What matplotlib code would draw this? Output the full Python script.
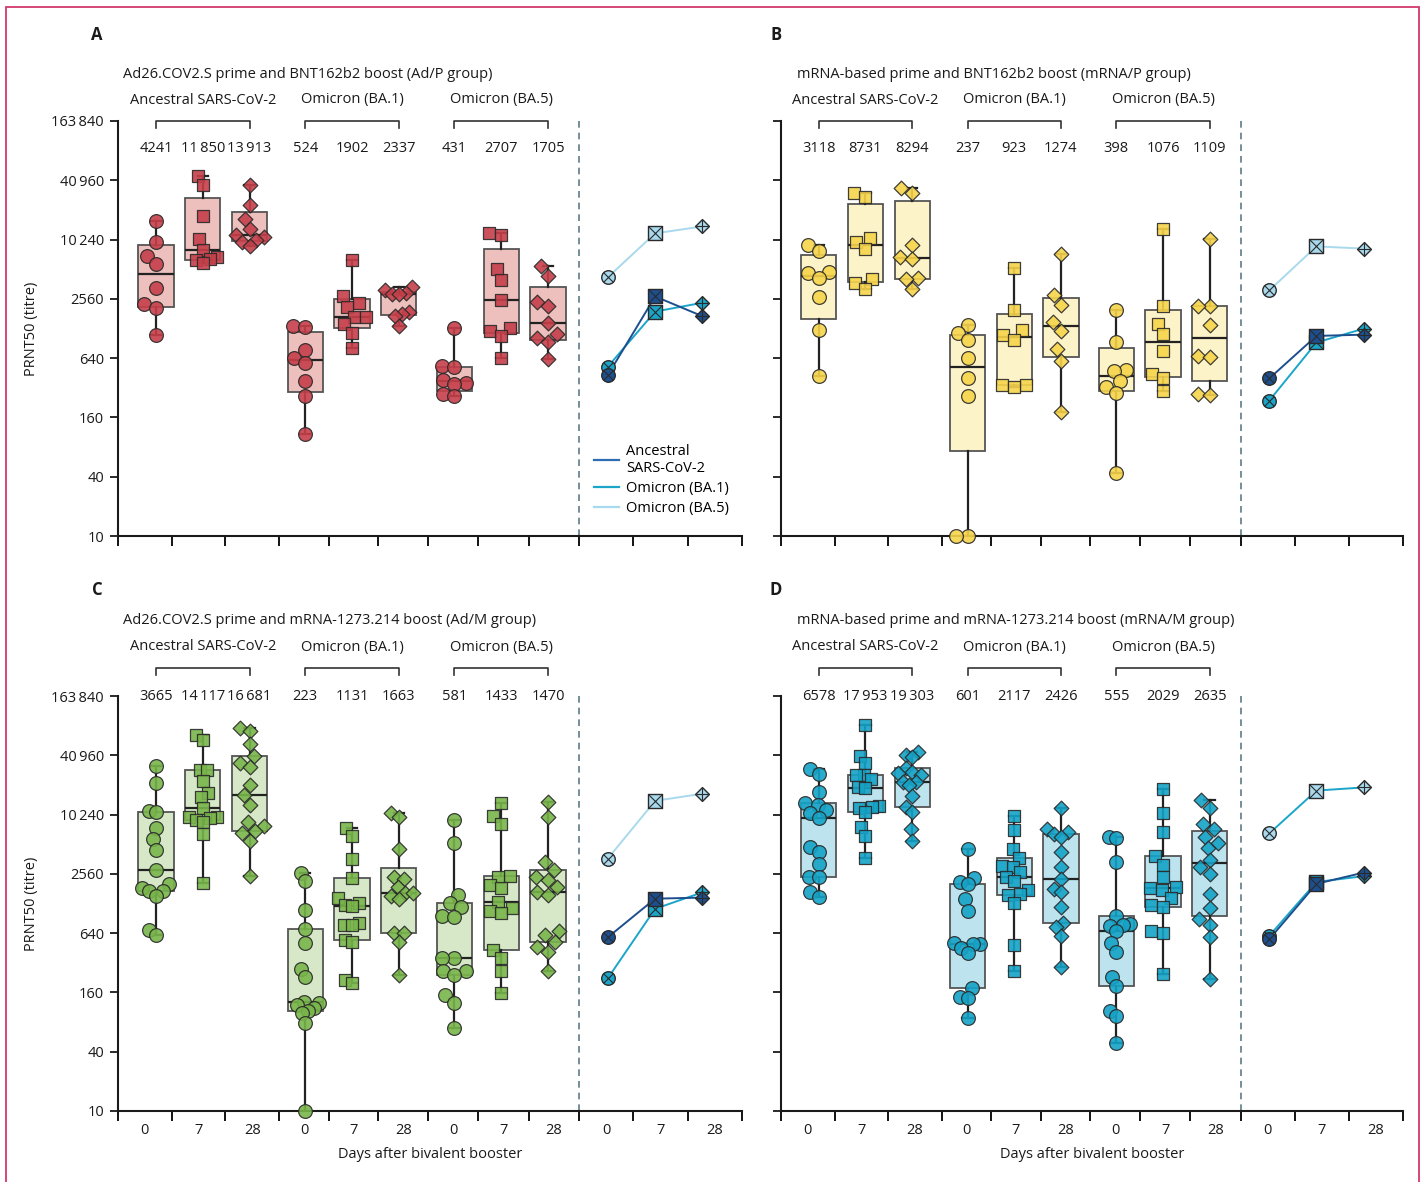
"""Neutralising titres after a bivalent booster, four vaccine groups (panels A-D).

Box-and-whisker (min to max) with individual titres, plus geometric-mean
trajectories on the right of each panel.
"""

import matplotlib

matplotlib.use("Agg")
import matplotlib.pyplot as plt
import numpy as np
from matplotlib.lines import Line2D
from matplotlib.patches import Rectangle
from matplotlib.ticker import NullLocator
from matplotlib.transforms import blended_transform_factory

plt.rcParams["font.family"] = ["Open Sans", "DejaVu Sans"]
plt.rcParams["font.size"] = 10

W, H = 1424, 1182

DAYS = ["0", "7", "28"]
VARIANTS = ["Ancestral SARS-CoV-2", "Omicron (BA.1)", "Omicron (BA.5)"]
LEGEND_LABELS = ["Ancestral\nSARS-CoV-2", "Omicron (BA.1)", "Omicron (BA.5)"]
Y_TICKS = [10, 40, 160, 640, 2560, 10240, 40960, 163840]
Y_TICK_LABELS = ["10", "40", "160", "640", "2560", "10\u2009240", "40\u2009960", "163\u2009840"]

# ---------------------------------------------------------------------------
# Individual PRNT50 titres, per variant: [day 0, day 7, day 28]
# ---------------------------------------------------------------------------

A_ANC = [
    [15650, 9600, 6960, 5820, 3295, 2250, 2080, 1107],
    [45190, 36610, 17880, 10350, 8080, 6800, 6490, 6330, 5910],
    [36310, 22750, 16410, 13200, 11280, 10850, 10040, 9660, 8730],
]
A_BA1 = [
    [1345, 1320, 780, 645, 570, 372, 262, 108],
    [6390, 2730, 2340, 2110, 1670, 1670, 1430, 1160, 817],
    [3374, 3121, 2933, 2889, 2843, 1866, 1811, 1698, 1355],
]
A_BA5 = [
    [1293, 528, 520, 386, 358, 352, 279, 262],
    [12010, 11470, 5100, 3940, 2507, 1302, 1206, 1081, 645],
    [5510, 4365, 2395, 2147, 1455, 1123, 1016, 932, 622],
]

B_ANC = [
    [8935, 7825, 4750, 4647, 4165, 2668, 1224, 425],
    [30150, 27840, 10690, 9740, 8260, 4035, 3676, 3195],
    [34100, 30310, 8935, 6855, 6490, 4130, 4090, 3195],
]
B_BA1 = [
    [1387, 1150, 970, 637, 399, 262, 10, 10],
    [5260, 1985, 1224, 1107, 985, 344, 339, 326],
    [7300, 2773, 2214, 1489, 1206, 791, 605, 181],
]
B_BA5 = [
    [1985, 925, 481, 474, 372, 326, 285, 44],
    [13200, 2147, 1432, 1113, 761, 445, 402, 294],
    [10440, 2147, 2147, 1399, 672, 656, 279, 268],
]

C_ANC = [
    [31830, 21230, 11200, 10780, 7410, 5730, 4463, 2798, 2017, 1823, 1727, 1727, 1535, 683, 612],
    [65170, 58410, 28970, 28970, 22410, 16800, 15540, 11830, 9730, 9730, 9360, 9000, 8655, 6443, 2080],
    [76760, 72700, 53240, 40210, 33870, 31300, 20250, 16160, 12790, 8655, 7825, 6960, 6587, 5470, 2411],
]
C_BA1 = [
    [2627, 2164, 1099, 700, 504, 274, 228, 129, 124, 119, 110, 104, 98, 78, 10],
    [7525, 6240, 3620, 2339, 1441, 1282, 1250, 1213, 804, 774, 774, 545, 515, 214, 201],
    [10530, 9730, 4570, 2355, 2266, 1866, 1647, 1647, 1524, 1409, 637, 637, 515, 240],
]
C_BA5 = [
    [9000, 5300, 1560, 1282, 1188, 954, 940, 355, 355, 264, 264, 240, 150, 126, 70],
    [13300, 9960, 8135, 2430, 2395, 1970, 1823, 1334, 1142, 1081, 1016, 431, 355, 264, 158],
    [13600, 9730, 3346, 2798, 2395, 2214, 1866, 1686, 1560, 678, 612, 524, 459, 414, 264],
]

D_ANC = [
    [29440, 26190, 17320, 13300, 12900, 11280, 10530, 9360, 4830, 4300, 3245, 2355, 2355, 1660, 1500],
    [82900, 40500, 33870, 25780, 25780, 23320, 19610, 19020, 12590, 12300, 12010, 10950, 7710, 6240, 3730],
    [44500, 41100, 38990, 30150, 27840, 26780, 25780, 22050, 22050, 20400, 15780, 12300, 10950, 7240, 5510],
]
D_BA1 = [
    [4530, 2339, 2095, 1999, 1409, 1081, 504, 500, 496, 448, 405, 176, 145, 139, 89],
    [9890, 7130, 4530, 3676, 3075, 3030, 2650, 2395, 2165, 1752, 1597, 1560, 1282, 485, 264],
    [12010, 7240, 6850, 6443, 6100, 4225, 3030, 2266, 1790, 1660, 1188, 817, 744, 603, 292],
]
D_BA5 = [
    [6100, 5860, 3400, 954, 785, 774, 760, 672, 504, 414, 232, 186, 104, 92, 49],
    [18440, 10690, 6855, 3880, 3140, 2355, 1893, 1823, 1752, 1465, 1250, 1188, 678, 645, 245],
    [14380, 11830, 8135, 7240, 6100, 5300, 4640, 3535, 3030, 2530, 1597, 1142, 883, 774, 580, 217],
]

# Geometric mean titres printed above each box (and drawn as trajectories)
A_GMT = [[4241, 11850, 13913], [524, 1902, 2337], [431, 2707, 1705]]
B_GMT = [[3118, 8731, 8294], [237, 923, 1274], [398, 1076, 1109]]
C_GMT = [[3665, 14117, 16681], [223, 1131, 1663], [581, 1433, 1470]]
D_GMT = [[6578, 17953, 19303], [601, 2117, 2426], [555, 2029, 2635]]

# ---------------------------------------------------------------------------
# Styling / layout
# ---------------------------------------------------------------------------

EDGE = "#2a2a2a"
LIGHT, TEAL, DARK = "#a9d9ec", "#1ba6c9", "#1d4f8f"
LEGEND_COLORS = ["#2f6db3", TEAL, LIGHT]

PANELS = [
    dict(letter="A", title="Ad26.COV2.S prime and BNT162b2 boost (Ad/P group)",
         titres=[A_ANC, A_BA1, A_BA5], gmt=A_GMT, face="#c63f4a", box="#edbfbd",
         rect=(118, 121, 742, 536), left_px=97, title_px=123, hdr=0,
         ylabels=True, xlabels=False, line_colors=[LIGHT, TEAL, DARK], legend=True),
    dict(letter="B", title="mRNA-based prime and BNT162b2 boost (mRNA/P group)",
         titres=[B_ANC, B_BA1, B_BA5], gmt=B_GMT, face="#f6d44a", box="#fdf3c9",
         rect=(781, 121, 1403, 536), left_px=776, title_px=797, hdr=0,
         ylabels=False, xlabels=False, line_colors=[LIGHT, TEAL, DARK], legend=False),
    dict(letter="C", title="Ad26.COV2.S prime and mRNA-1273.214 boost (Ad/M group)",
         titres=[C_ANC, C_BA1, C_BA5], gmt=C_GMT, face="#78b54a", box="#d6e8c8",
         rect=(118, 696, 742, 1111), left_px=97, title_px=123, hdr=1,
         ylabels=True, xlabels=True, line_colors=[LIGHT, TEAL, DARK], legend=False),
    dict(letter="D", title="mRNA-based prime and mRNA-1273.214 boost (mRNA/M group)",
         titres=[D_ANC, D_BA1, D_BA5], gmt=D_GMT, face="#14a3c7", box="#bde3ee",
         rect=(781, 696, 1403, 1111), left_px=776, title_px=797, hdr=1,
         ylabels=False, xlabels=True, line_colors=[TEAL, TEAL, DARK], legend=False),
]

# header rows (pixel y), for top / bottom panel rows
HEADER_ROWS = [
    dict(letter=35, title=75, group=100, bracket=121, gmt=149),
    dict(letter=590, title=620, group=647, bracket=668, gmt=696),
]

MARKERS = ["o", "s", "D"]
SIZES = [98, 86, 56]
SWARM_DIAM_PX = 12.0
SWARM_MAX_PX = 14.0
X_LIM = (-0.5, 11.5)
GROUP_EDGES = [-0.5, 2.6, 5.46, 8.37, 11.5]
SEPARATOR = GROUP_EDGES[3]
LINE_X = 8.92 + 0.91 * np.arange(3)


def box_x(g: int, d: int) -> float:
    return 0.23 + 2.87 * g + 0.9 * d


def px_rect(left, top, right, bottom):
    return [left / W, 1 - bottom / H, (right - left) / W, (bottom - top) / H]


def fy(py: float) -> float:
    return 1 - py / H


def swarm(values, diam_px, max_px, px_per_x, px_per_level):
    """Beeswarm offsets (x data units); squeezed so the swarm stays near the box."""
    ys = np.log(np.asarray(values, float) / 10) / np.log(4) * px_per_level
    offs = np.zeros(len(ys))
    placed = []
    for i in np.argsort(ys):
        y = ys[i]
        spans = []
        for xj, yj in placed:
            dy = abs(y - yj)
            if dy < diam_px:
                half = np.sqrt(diam_px ** 2 - dy ** 2)
                spans.append((xj - half, xj + half))
        cands = sorted([0.0] + [a for a, _ in spans] + [b for _, b in spans], key=abs)
        for c in cands:
            if all(not (a + 1e-6 < c < b - 1e-6) for a, b in spans):
                offs[i] = c
                break
        placed.append((offs[i], y))
    widest = np.abs(offs).max()
    if widest > max_px:
        offs *= max_px / widest
    return offs / px_per_x


def crossed_marker(ax, x, y, marker, size, face, cross, cross_size, z):
    ax.scatter([x], [y], marker=marker, s=size, c=face, edgecolors=EDGE,
               linewidths=1.0, zorder=z, clip_on=False)
    ax.scatter([x], [y], marker=cross, s=cross_size, c=EDGE, linewidths=0.8,
               zorder=z + 0.1, clip_on=False)


fig = plt.figure(figsize=(W / 100, H / 100), dpi=100, facecolor="white")

for p in PANELS:
    left, top, right, bottom = p["rect"]
    ax = fig.add_axes(px_rect(left, top, right, bottom))
    px_per_x = (right - left) / (X_LIM[1] - X_LIM[0])
    px_per_level = (bottom - top) / 7

    ax.set_yscale("log")
    ax.set_ylim(10, 163840)
    ax.set_xlim(*X_LIM)

    # boxes + individual titres
    for g, variant in enumerate(p["titres"]):
        for d in range(3):
            vals = np.asarray(variant[d], float)
            x0 = box_x(g, d)
            q1, med, q3 = np.percentile(vals, [25, 50, 75], method="weibull")
            ax.bxp(
                [dict(med=med, q1=q1, q3=q3, whislo=vals.min(), whishi=vals.max(), fliers=[])],
                positions=[x0], widths=0.68, capwidths=0.2, patch_artist=True,
                showfliers=False, zorder=2,
                boxprops=dict(facecolor=p["box"], edgecolor="#555555", linewidth=1.3),
                medianprops=dict(color="#222222", linewidth=1.6),
                whiskerprops=dict(color="#222222", linewidth=1.6),
                capprops=dict(color="#222222", linewidth=1.6),
            )
            offs = swarm(vals, SWARM_DIAM_PX, SWARM_MAX_PX, px_per_x, px_per_level)
            ax.scatter(x0 + offs, vals, marker=MARKERS[d], s=SIZES[d], c=p["face"],
                       edgecolors=EDGE, linewidths=0.9, alpha=0.9, zorder=3, clip_on=False)

    # geometric mean trajectories
    fills = [LIGHT, TEAL, DARK]
    for g in range(3):
        ax.plot(LINE_X, p["gmt"][g], color=p["line_colors"][g], lw=1.4, zorder=4)
    for g in range(3):
        for d, (mk, sz, cr, csz) in enumerate([("o", 95, "x", 42), ("s", 110, "x", 110),
                                               ("D", 50, "+", 85)]):
            crossed_marker(ax, LINE_X[d], p["gmt"][g][d], mk, sz, fills[g], cr, csz, 5 + g)

    ax.axvline(SEPARATOR, color="#5f7c8a", lw=1.2, ls=(0, (4, 3)), zorder=1)

    # axes styling
    for side in ("top", "right"):
        ax.spines[side].set_visible(False)
    for side in ("left", "bottom"):
        ax.spines[side].set_linewidth(1.5)
        ax.spines[side].set_color("#1a1a1a")
    ax.set_yticks(Y_TICKS)
    ax.yaxis.set_minor_locator(NullLocator())
    ax.set_yticklabels(Y_TICK_LABELS if p["ylabels"] else [])
    ax.tick_params(axis="y", which="major", direction="out", length=6, width=1.3,
                   labelsize=10.5, pad=4, colors="#1a1a1a")

    edges = []
    for a, b in zip(GROUP_EDGES[:-1], GROUP_EDGES[1:]):
        edges.extend(np.linspace(a, b, 4)[:-1])
    edges.append(GROUP_EDGES[-1])
    centres = [(a + b) / 2 for a, b in zip(edges[:-1], edges[1:])]
    ax.set_xticks(edges)
    ax.set_xticklabels([])
    ax.tick_params(axis="x", which="major", direction="out", length=7, width=1.3)
    ax.set_xticks(centres, minor=True)
    ax.set_xticklabels(DAYS * 4 if p["xlabels"] else [], minor=True)
    ax.tick_params(axis="x", which="minor", length=0, pad=9, labelsize=10.5,
                   colors="#1a1a1a")

    # headers above the boxes
    rows = HEADER_ROWS[p["hdr"]]
    tr = blended_transform_factory(ax.transData, fig.transFigure)
    for g in range(3):
        xs = [box_x(g, d) for d in range(3)]
        ax.text(xs[1], fy(rows["group"]), VARIANTS[g], transform=tr, ha="center",
                va="center", fontsize=10.5, color="#1a1a1a")
        by, tick = fy(rows["bracket"]), 7 / H
        ax.add_line(Line2D([xs[0], xs[0], xs[2], xs[2]], [by - tick, by, by, by - tick],
                           transform=tr, color="#333333", lw=1.2, clip_on=False))
        for d in range(3):
            val = p["gmt"][g][d]
            txt = f"{val:,}".replace(",", "\u2009") if val >= 10000 else str(val)
            ax.text(xs[d], fy(rows["gmt"]), txt, transform=tr, ha="center",
                    va="center", fontsize=10.5, color="#1a1a1a")

    fig.text(p["left_px"] / W, fy(rows["letter"]), p["letter"], fontsize=12,
             fontweight="bold", ha="center", va="center", color="#1a1a1a")
    fig.text(p["title_px"] / W, fy(rows["title"]), p["title"], fontsize=10.5,
             ha="left", va="center", color="#1a1a1a")

    if p["ylabels"]:
        fig.text(32 / W, fy((top + bottom) / 2), "PRNT50 (titre)", rotation=90,
                 ha="center", va="center", fontsize=10.5, color="#1a1a1a")
    if p["xlabels"]:
        fig.text((left + right) / 2 / W, fy(1155), "Days after bivalent booster",
                 ha="center", va="center", fontsize=10.5, color="#1a1a1a")

    if p["legend"]:
        handles = [Line2D([0], [0], color=c, lw=1.6) for c in LEGEND_COLORS]
        ax.legend(handles, LEGEND_LABELS, loc="upper left",
                  bbox_to_anchor=((594 - left) / (right - left), 1 - (444 - top) / (bottom - top)),
                  frameon=False, fontsize=10.5, handlelength=1.7, handletextpad=0.5,
                  labelspacing=0.35, borderpad=0, borderaxespad=0)

# thin crimson frame around the figure
fig.patches.append(Rectangle((6 / W, -0.02), (1419 - 6) / W, 1 - 7 / H + 0.02,
                             transform=fig.transFigure, fill=False,
                             edgecolor="#d2386c", lw=1.3))

fig.savefig("out.png", dpi=100, facecolor="white")
